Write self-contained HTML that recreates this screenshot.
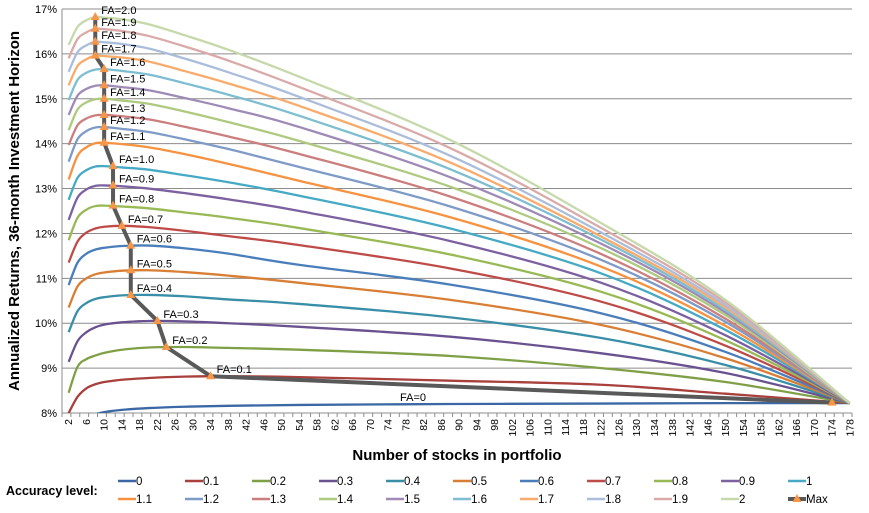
<!DOCTYPE html>
<html><head><meta charset="utf-8"><style>
body{margin:0;background:#fff;width:869px;height:508px;overflow:hidden;font-family:"Liberation Sans",sans-serif}
svg text{font-family:"Liberation Sans",sans-serif}
</style></head><body>
<svg id="chart" width="869" height="508" xmlns="http://www.w3.org/2000/svg"></svg>
<script>
const stockCounts=[2,4,6,8,10,14,20,28,38,54,88,122,150,178];
const faLevels=["0","0.1","0.2","0.3","0.4","0.5","0.6","0.7","0.8","0.9","1","1.1","1.2","1.3","1.4","1.5","1.6","1.7","1.8","1.9","2"];
const s0=[7.6,7.75,7.88,7.97,8.02,8.07,8.11,8.14,8.16,8.18,8.2,8.21,8.22,8.22];
const s01=[8.0,8.36,8.55,8.64,8.69,8.74,8.78,8.81,8.82,8.8,8.72,8.63,8.43,8.22];
const s02=[8.45,9.03,9.2,9.28,9.34,9.41,9.46,9.47,9.45,9.41,9.27,9.0,8.69,8.22];
const s03=[9.14,9.6,9.8,9.91,9.97,10.02,10.05,10.04,10.0,9.92,9.7,9.33,8.89,8.22];
const s04=[9.8,10.27,10.45,10.54,10.58,10.62,10.63,10.6,10.53,10.43,10.13,9.67,9.07,8.22];
const s05=[10.35,10.82,11.0,11.09,11.13,11.17,11.18,11.14,11.06,10.9,10.52,9.96,9.22,8.22];
const s06=[10.85,11.35,11.55,11.64,11.68,11.72,11.73,11.67,11.55,11.3,10.86,10.22,9.36,8.22];
const s07=[11.35,11.82,12.02,12.11,12.15,12.17,12.14,12.06,11.94,11.74,11.22,10.48,9.5,8.22];
const s08=[11.85,12.35,12.53,12.61,12.62,12.6,12.56,12.47,12.35,12.12,11.53,10.7,9.62,8.22];
const s09=[12.3,12.8,12.98,13.06,13.07,13.05,13.0,12.9,12.76,12.5,11.83,10.9,9.73,8.22];
const s10=[12.75,13.24,13.41,13.49,13.5,13.47,13.42,13.3,13.14,12.84,12.11,11.11,9.85,8.22];
const s11=[13.2,13.73,13.92,14.01,14.02,13.99,13.92,13.77,13.55,13.17,12.36,11.26,9.94,8.22];
const s12=[13.6,14.1,14.28,14.36,14.37,14.33,14.26,14.1,13.88,13.48,12.6,11.41,10.03,8.22];
const s13=[13.97,14.41,14.56,14.63,14.64,14.61,14.54,14.38,14.16,13.77,12.82,11.54,10.1,8.22];
const s14=[14.3,14.76,14.92,14.99,15.0,14.96,14.89,14.72,14.48,14.06,13.04,11.67,10.18,8.22];
const s15=[14.64,15.07,15.22,15.29,15.3,15.26,15.19,15.02,14.79,14.37,13.25,11.77,10.24,8.22];
const s16=[14.97,15.42,15.58,15.65,15.66,15.62,15.54,15.35,15.09,14.62,13.43,11.86,10.29,8.22];
const s17=[15.3,15.73,15.88,15.96,15.95,15.92,15.83,15.62,15.34,14.84,13.58,11.93,10.35,8.22];
const s18=[15.6,16.04,16.19,16.27,16.26,16.22,16.12,15.9,15.59,15.04,13.73,12.02,10.4,8.22];
const s19=[15.9,16.33,16.48,16.56,16.55,16.51,16.4,16.17,15.85,15.26,13.9,12.12,10.46,8.22];
const s20=[16.2,16.6,16.75,16.82,16.81,16.77,16.66,16.42,16.09,15.49,14.08,12.23,10.52,8.22];
const seriesValues=[s0,s01,s02,s03,s04,s05,s06,s07,s08,s09,s10,s11,s12,s13,s14,s15,s16,s17,s18,s19,s20];
const maxStocks=[174,34,24,22,16,16,16,14,12,12,12,10,10,10,10,10,10,8,8,8,8];
const maxReturns=[8.23,8.82,9.47,10.05,10.63,11.18,11.73,12.17,12.62,13.07,13.5,14.02,14.37,14.64,15.0,15.3,15.66,15.96,16.27,16.56,16.82];
const maxLabels=["FA=0","FA=0.1","FA=0.2","FA=0.3","FA=0.4","FA=0.5","FA=0.6","FA=0.7","FA=0.8","FA=0.9","FA=1.0","FA=1.1","FA=1.2","FA=1.3","FA=1.4","FA=1.5","FA=1.6","FA=1.7","FA=1.8","FA=1.9","FA=2.0"];
const yTicks=[8,9,10,11,12,13,14,15,16,17];

const colors=["#3B68A4","#A8403C","#7FA046","#6A5190","#3A8FA8","#D97E35","#4A7EBB","#BE4B48","#98B954","#7D60A0","#46AAC5","#F69240","#7E9BC8","#CB7E7D","#AECA7F","#9F8AB6","#7DBED1","#F9AB6B","#AABDDB","#DAAAA9","#C6D9AB"];
const L=62,R=852,T=9,B=413,NC=178;
const xS=n=>L+(n-0.5)*(R-L)/NC;
const yS=v=>B-(v-8)*(B-T)/9;
const svg=document.getElementById('chart');
const NS="http://www.w3.org/2000/svg";
function mk(tag,attrs,parent){const e=document.createElementNS(NS,tag);for(const k in attrs)e.setAttribute(k,attrs[k]);(parent||svg).appendChild(e);return e;}
function smooth(pts){let d=`M${pts[0][0]},${pts[0][1]}`;for(let i=0;i<pts.length-1;i++){const p0=pts[Math.max(0,i-1)],p1=pts[i],p2=pts[i+1],p3=pts[Math.min(pts.length-1,i+2)];const c1x=p1[0]+(p2[0]-p0[0])/6,c1y=p1[1]+(p2[1]-p0[1])/6,c2x=p2[0]-(p3[0]-p1[0])/6,c2y=p2[1]-(p3[1]-p1[1])/6;d+=` C${c1x},${c1y} ${c2x},${c2y} ${p2[0]},${p2[1]}`;}return d;}

const defs=mk('defs',{});const cp=mk('clipPath',{id:'pc'},defs);mk('rect',{x:L,y:T-3,width:R-L+3,height:B-T+3},cp);

yTicks.forEach(v=>{
  const g=mk('line',{x1:L,x2:R,y1:yS(v),y2:yS(v),stroke:'#8c8c8c','stroke-width':1});
  
  
  const t=mk('text',{x:L-5,y:yS(v)+4,'text-anchor':'end','font-size':11,fill:'#000'});t.textContent=v+'%';
  
  
});
const ya=mk('line',{x1:L,x2:L,y1:T,y2:B,stroke:'#8c8c8c'});


const xa=mk('line',{x1:L,x2:R,y1:B,y2:B,stroke:'#8c8c8c'});


for(let n=0;n<=NC;n+=2){mk('line',{x1:L+n*(R-L)/NC,x2:L+n*(R-L)/NC,y1:B,y2:B+4,stroke:'#8c8c8c'});}
for(let n=2;n<=178;n+=4){
  const t=mk('text',{transform:`translate(${xS(n)+3.5},${B+6}) rotate(-90)`,'text-anchor':'end','font-size':10.5,fill:'#000'});t.textContent=n;
  
  
}
const sg=mk('g',{'clip-path':'url(#pc)'});
seriesValues.forEach((vals,i)=>{
  const p=mk('path',{d:smooth(vals.map((v,j)=>[xS(stockCounts[j]),yS(v)])),fill:'none',stroke:colors[i],'stroke-width':2.3},sg);
  
  
});
const mpts=maxStocks.map((n,i)=>[xS(n),yS(maxReturns[i])]);
const ml=mk('path',{d:'M'+mpts.map(p=>p.join(',')).join(' L'),fill:'none',stroke:'#595959','stroke-width':4,'stroke-linejoin':'round'});


mpts.forEach((p,i)=>{
  const m=mk('path',{d:`M${p[0]},${p[1]-5} L${p[0]+4.5},${p[1]+3} L${p[0]-4.5},${p[1]+3}Z`,fill:'#F79646'});
  
  
  const t=mk('text',{x:i===0?400:p[0]+6,y:i===0?401:p[1]-3,'font-size':11,fill:'#000'});t.textContent=maxLabels[i];
  
  
});
const yt=mk('text',{transform:'translate(19,211) rotate(-90)','text-anchor':'middle','font-size':15,'font-weight':'bold',fill:'#000'});yt.textContent='Annualized Returns, 36-month Investment Horizon';


const xt=mk('text',{x:457,y:460,'text-anchor':'middle','font-size':15,'font-weight':'bold',fill:'#000'});xt.textContent='Number of stocks in portfolio';


const lt=mk('text',{x:6,y:495,'font-size':12.5,'font-weight':'bold',fill:'#000'});lt.textContent='Accuracy level:';


const legNames=faLevels.concat(['Max']);
legNames.forEach((nm,i)=>{
  const row=i<11?0:1,col=i%11;const x=118+col*67,y=row?499:481;
  const g=mk('g',{});
  
  
  mk('line',{x1:x,x2:x+18,y1:y,y2:y,stroke:i<21?colors[i]:'#595959','stroke-width':i<21?2.5:4},g);
  if(i===21)mk('path',{d:`M${x+9},${y-5} L${x+13.5},${y+3} L${x+4.5},${y+3}Z`,fill:'#F79646'},g);
  const t=mk('text',{x:x+18,y:y+4,'font-size':11.5,fill:'#000'},g);t.textContent=nm;
});
</script>
</body></html>
